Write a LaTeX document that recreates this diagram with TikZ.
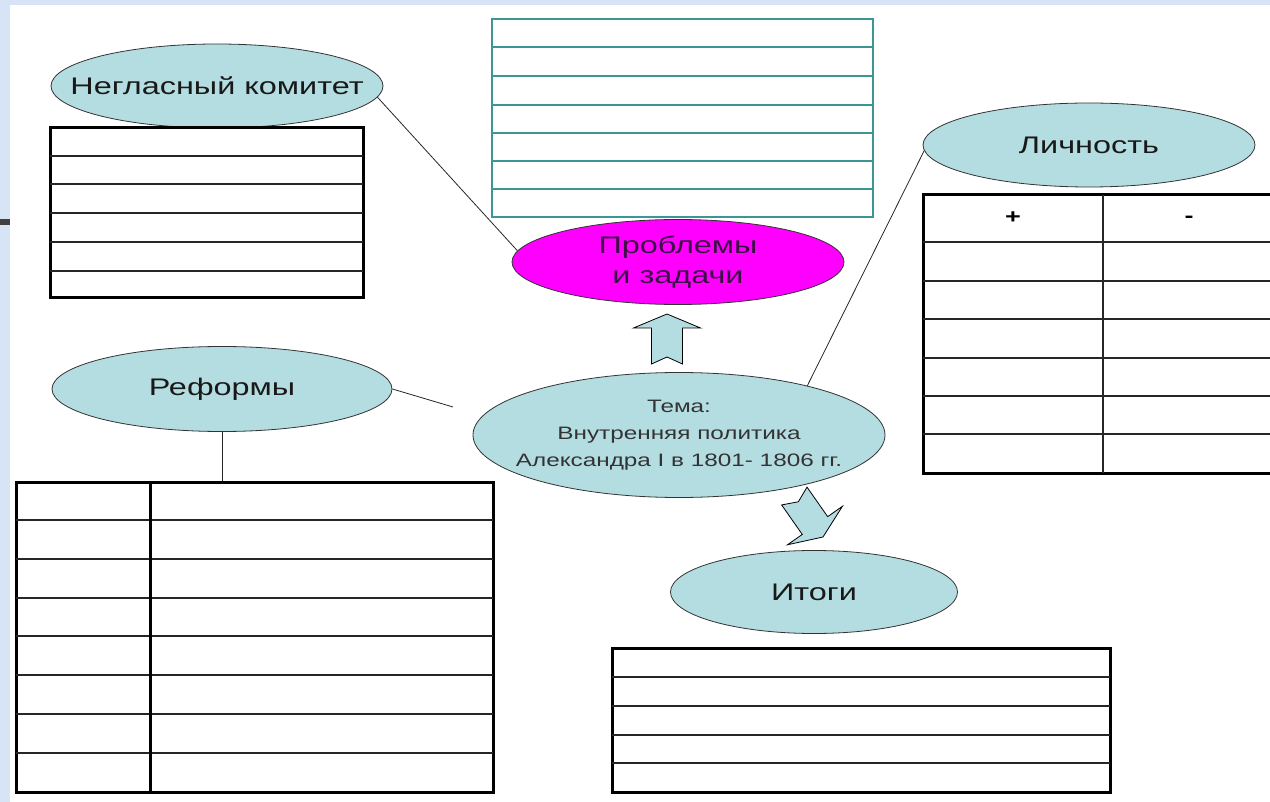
\documentclass[tikz,border=0pt]{standalone}
\usepackage{fontspec}
\setmainfont{Liberation Sans}
\newfontfamily\wsans[FakeStretch=1.35]{Liberation Sans}
\usetikzlibrary{shapes.geometric}
\definecolor{bubblefill}{RGB}{180,221,226}
\definecolor{magfill}{RGB}{255,0,255}
\definecolor{magtext}{RGB}{60,15,70}
\definecolor{tealrule}{RGB}{60,150,150}
\definecolor{frameblue}{RGB}{214,228,245}

\begin{document}
\begin{tikzpicture}[x=1pt, y=-1pt,
    bubble/.style={ellipse, draw=black!80, line width=0.8pt, fill=bubblefill, inner sep=0pt},
    bigtxt/.style={font=\wsans\fontsize{24}{30}\selectfont, text=black!90},
    smalltxt/.style={font=\wsans\fontsize{18}{27}\selectfont, text=black!80, align=center},
    tabbox/.style={rectangle, draw=black, line width=3pt, fill=white, inner sep=0pt},
    rowline/.style={black!85, line width=1.5pt},
    tealrow/.style={tealrule, line width=1.2pt},
    link/.style={black!85, line width=0.8pt},
    blockarrow/.style={fill=bubblefill, draw=black, line width=0.8pt, line join=miter}]

    \useasboundingbox (0,0) rectangle (1270,802);

    % fond
    \fill[frameblue] (0,0) rectangle (1270,802);
    \fill[white] (10,5) rectangle (1270,802);
    \fill[black!75] (0,219) rectangle (10,225);

    % fleches
    \foreach \tx/\ty/\rot in {667/314/0, 823/537/-145} {
        \draw[blockarrow, shift={(\tx,\ty)}, rotate=\rot]
            (0,0) -- (33.5,14) -- (15.5,14) -- (15.5,50) -- (0,43)
            -- (-15.5,50) -- (-15.5,14) -- (-33.5,14) -- cycle;
    }

    % bulles
    \node[bubble, minimum width=332pt, minimum height=84pt,
          label={[bigtxt]center:Негласный комитет}] (negl) at (217,86) {};
    \node[bubble, fill=magfill, minimum width=332pt, minimum height=85pt,
          label={[bigtxt, align=center, text=magtext]center:Проблемы\\и задачи}] (prob) at (678,262) {};
    \node[bubble, minimum width=332pt, minimum height=84pt,
          label={[bigtxt]center:Личность}] (lich) at (1089,145) {};
    \node[bubble, minimum width=412pt, minimum height=125pt,
          label={[smalltxt]center:Тема:\\Внутренняя политика\\Александра I в 1801- 1806 гг.}] (tema) at (679,435) {};
    \node[bubble, minimum width=340pt, minimum height=85pt,
          label={[bigtxt]center:Реформы}] (refo) at (222,389) {};
    \node[bubble, minimum width=287pt, minimum height=83pt,
          label={[bigtxt]center:Итоги}] (itog) at (814,592) {};

    % tableau comite
    \node[tabbox, minimum width=313pt, minimum height=170pt] (negltab) at (206.5,213) {};
    \foreach \y in {156,184,213,242,271}
        \draw[rowline] (50,\y) -- (363,\y);

    % tableau problemes
    \node[tabbox, draw=tealrule, line width=1.2pt, minimum width=381pt, minimum height=198pt] (probtab) at (682.5,118) {};
    \foreach \y in {47,105,133,161,189}
        \draw[tealrow] (492,\y) -- (873,\y);
    \draw[tealrow, line width=2.5pt] (492,76) -- (873,76);

    % tableau personnalite
    \node[tabbox, minimum width=351pt, minimum height=278pt] (lichtab) at (1098.5,334) {};
    \foreach \y in {242,281,319,358,396,434}
        \draw[rowline] (923,\y) -- (1274,\y);
    \draw[rowline, line width=2pt] (1103,195) -- (1103,473);
    \node[font=\wsans\bfseries\fontsize{20}{24}\selectfont] (plus) at (1013,218) {+};
    \node[font=\wsans\bfseries\fontsize{20}{24}\selectfont] (minus) at (1189,219) {-};

    % tableau reformes
    \node[tabbox, minimum width=477pt, minimum height=310pt] (refotab) at (254.5,637) {};
    \foreach \y in {520,559,598,636,675,714,753}
        \draw[rowline] (16,\y) -- (493,\y);
    \draw[black, line width=3pt] (150,482) -- (150,792);

    % tableau bilan
    \node[tabbox, minimum width=498pt, minimum height=144pt] (itogtab) at (861,720) {};
    \foreach \y in {677,706,735,763}
        \draw[rowline] (612,\y) -- (1110,\y);

    % liens
    \coordinate (refoend) at (453,407);
    \draw[link] (negl.-4) -- (prob.176);
    \draw[link] (lich.182) -- (tema.21);
    \draw[link] (refo.east) -- (refoend);
    \draw[link, line width=1pt] (refo.south) -- (refo.south |- refotab.north);

\end{tikzpicture}
\end{document}
